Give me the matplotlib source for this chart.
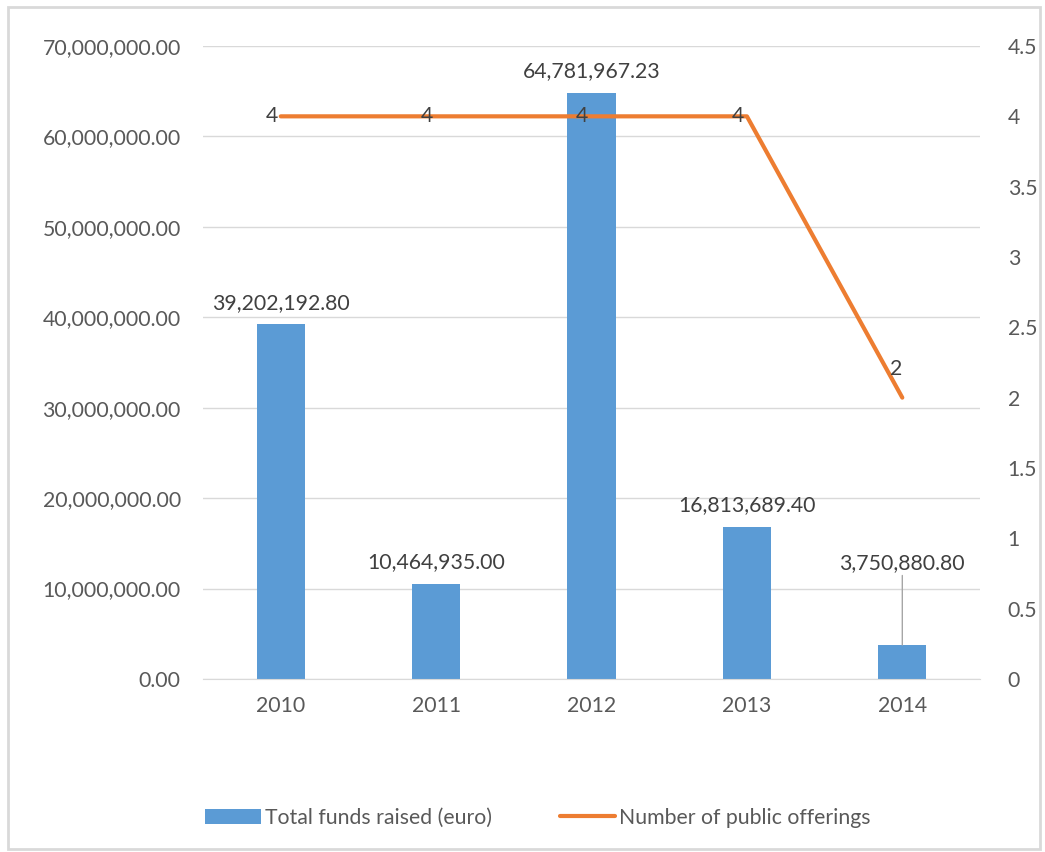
import matplotlib.pyplot as plt
from matplotlib.patches import Rectangle
from matplotlib.ticker import FuncFormatter, MultipleLocator

years = ["2010", "2011", "2012", "2013", "2014"]
funds = [39202192.80, 10464935.00, 64781967.23, 16813689.40, 3750880.80]
offerings = [4, 4, 4, 4, 2]

bar_color = "#5B9BD5"
line_color = "#ED7D31"
text_color = "#595959"
label_color = "#404040"
fs = 15.3

plt.rcParams["font.family"] = ["Lato", "DejaVu Sans"]

fig = plt.figure(figsize=(10.45, 8.52), dpi=100)
fig.patches.append(Rectangle((0.008, 0.004), 0.987, 0.988, transform=fig.transFigure,
                             fill=False, edgecolor="#D9D9D9", linewidth=2))

ax = fig.add_axes([0.1943, 0.2031, 0.7435, 0.7429])
x = list(range(len(years)))

bars = ax.bar(x, funds, width=0.31, color=bar_color, zorder=2,
              label="Total funds raised (euro)")
ax.set_ylim(0, 70000000)
ax.set_xlim(-0.5, len(years) - 0.5)
ax.yaxis.set_major_locator(MultipleLocator(10000000))
ax.yaxis.set_major_formatter(FuncFormatter(lambda v, p: f"{v:,.2f}"))
ax.set_xticks(x)
ax.set_xticklabels(years)
ax.grid(axis="y", color="#D9D9D9", linewidth=1, zorder=0)
for s in ax.spines.values():
    s.set_visible(False)
ax.spines["bottom"].set_visible(True)
ax.spines["bottom"].set_color("#D9D9D9")
ax.tick_params(axis="both", length=0, colors=text_color, labelsize=fs)
ax.tick_params(axis="y", pad=16)
ax.tick_params(axis="x", pad=12)

# value labels above the bars; the last one sits higher with a leader line
for i, v in enumerate(funds):
    txt = f"{v:,.2f}"
    if i == len(funds) - 1:
        ax.annotate(txt, xy=(i, v), xytext=(i, v + 8000000), ha="center", va="bottom",
                    fontsize=fs, color=label_color,
                    arrowprops=dict(arrowstyle="-", color="#A6A6A6", lw=1,
                                    shrinkA=0, shrinkB=0))
    else:
        ax.text(i, v + 1300000, txt, ha="center", va="bottom", fontsize=fs, color=label_color)

ax2 = ax.twinx()
ax2.plot(x, offerings, color=line_color, linewidth=3, solid_capstyle="round",
         label="Number of public offerings", zorder=3)
ax2.set_ylim(0, 4.5)
ax2.yaxis.set_major_locator(MultipleLocator(0.5))
ax2.yaxis.set_major_formatter(FuncFormatter(lambda v, p: f"{v:g}"))
for s in ax2.spines.values():
    s.set_visible(False)
ax2.tick_params(axis="y", length=0, colors=text_color, labelsize=fs, pad=20)

for i, n in enumerate(offerings):
    if i == len(offerings) - 1:
        ax2.text(i - 0.04, n + 0.13, str(n), ha="center", va="bottom", fontsize=fs, color=label_color)
    else:
        ax2.text(i - 0.02, n, str(n), ha="right", va="center", fontsize=fs, color=label_color)

h1, l1 = ax.get_legend_handles_labels()
h2, l2 = ax2.get_legend_handles_labels()
fig.legend(h1 + h2, l1 + l2, loc="center", bbox_to_anchor=(0.515, 0.04), ncol=2,
           frameon=False, fontsize=fs, labelcolor=text_color, handlelength=2.6,
           handletextpad=0.2, columnspacing=3.2)

fig.savefig("out.png", dpi=100)
